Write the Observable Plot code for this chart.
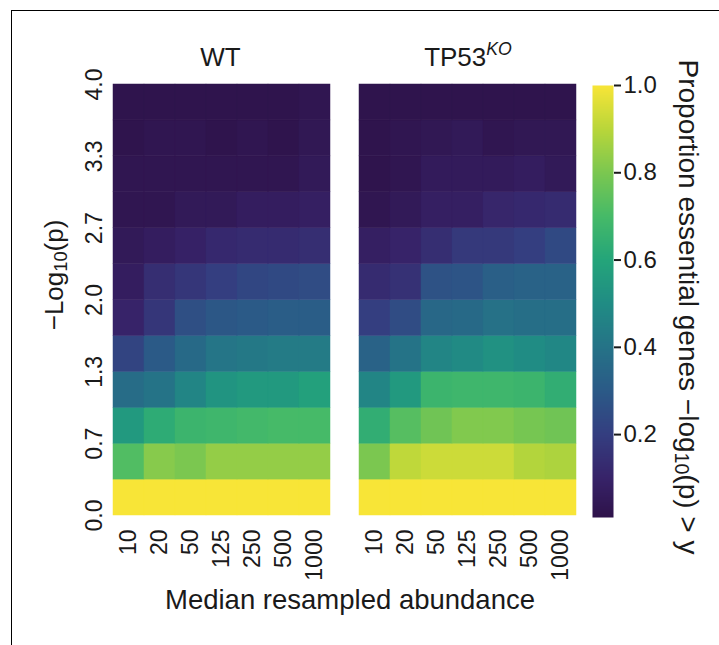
<!DOCTYPE html>
<html><head><meta charset="utf-8">
<script src="https://cdn.jsdelivr.net/npm/d3@7"></script>
<script src="https://cdn.jsdelivr.net/npm/@observablehq/plot@0.6"></script>
<style>
body{margin:0;background:#fff;}
#wrap{position:relative;width:719px;height:645px;overflow:hidden;font-family:"Liberation Sans",Arial,sans-serif;color:#1a1a1a;background:#fff;}
#wrap svg{position:absolute;top:0;}
.lbl{position:absolute;white-space:nowrap;transform:translate(-50%,-50%);line-height:1;}
.lbl sub{font-size:0.7em;vertical-align:baseline;position:relative;top:0.22em;}
.lbl sup{font-size:0.68em;vertical-align:baseline;position:relative;top:-0.6em;font-style:italic;}
.frame{position:absolute;left:11px;top:10px;width:720px;height:650px;border-top:1.5px solid #000;border-left:1.5px solid #000;}
svg [aria-label="y-axis tick"] path{stroke-width:2;}
</style></head><body><div id="wrap"></div>
<script>
// Columns: median resampled abundance
const abundance = ["10", "20", "50", "125", "250", "500", "1000"];
// Row lower bounds of -log10(p) thresholds (bottom to top)
const rowLower = [0, 1/3, 2/3, 1, 4/3, 5/3, 2, 7/3, 8/3, 3, 10/3, 11/3];
const rowStep = 1/3;
const panels = ["WT", "TP53KO"];
// Proportion of essential genes with -log10(p) > y; rows bottom (y=0) to top
const wt = [
  [1.00, 1.00, 1.00, 1.00, 1.00, 1.00, 1.00],
  [0.72, 0.82, 0.80, 0.84, 0.84, 0.84, 0.84],
  [0.55, 0.63, 0.67, 0.68, 0.69, 0.70, 0.70],
  [0.37, 0.40, 0.47, 0.53, 0.55, 0.55, 0.58],
  [0.22, 0.30, 0.36, 0.41, 0.42, 0.43, 0.43],
  [0.10, 0.17, 0.26, 0.29, 0.30, 0.31, 0.31],
  [0.07, 0.14, 0.17, 0.20, 0.23, 0.24, 0.25],
  [0.05, 0.07, 0.09, 0.12, 0.13, 0.13, 0.14],
  [0.03, 0.03, 0.05, 0.05, 0.07, 0.07, 0.08],
  [0.03, 0.03, 0.03, 0.03, 0.03, 0.03, 0.05],
  [0.02, 0.03, 0.03, 0.02, 0.03, 0.02, 0.04],
  [0.02, 0.02, 0.02, 0.02, 0.02, 0.02, 0.03]
];
const ko = [
  [1.00, 1.00, 1.00, 1.00, 1.00, 1.00, 1.00],
  [0.80, 0.91, 0.93, 0.93, 0.93, 0.89, 0.88],
  [0.64, 0.73, 0.78, 0.81, 0.81, 0.79, 0.78],
  [0.47, 0.55, 0.67, 0.68, 0.68, 0.67, 0.64],
  [0.33, 0.40, 0.47, 0.49, 0.52, 0.50, 0.48],
  [0.20, 0.25, 0.35, 0.36, 0.39, 0.38, 0.38],
  [0.13, 0.15, 0.27, 0.28, 0.32, 0.33, 0.33],
  [0.08, 0.10, 0.14, 0.18, 0.18, 0.20, 0.24],
  [0.03, 0.05, 0.08, 0.08, 0.11, 0.12, 0.13],
  [0.02, 0.03, 0.06, 0.06, 0.06, 0.07, 0.05],
  [0.02, 0.03, 0.04, 0.05, 0.03, 0.04, 0.04],
  [0.02, 0.02, 0.02, 0.02, 0.02, 0.02, 0.02]
];
const yTicks = [0, 2/3, 4/3, 2, 8/3, 10/3, 4];
const cbTicks = [0.2, 0.4, 0.6, 0.8, 1.0];
const cbMin = 0.01;
const colorDomain = [0, 0.1, 0.2, 0.3, 0.4, 0.5, 0.6, 0.7, 0.8, 0.9, 1.0];
const colorRange = ["#2d1046", "#372369", "#343e80", "#2b5a87", "#257387", "#208c84", "#24a57a", "#46ba68", "#7bc750", "#b9d63a", "#f8e537"];

const cells = [];
[["WT", wt], ["TP53KO", ko]].forEach(([panel, m]) =>
  m.forEach((row, i) => row.forEach((v, j) =>
    cells.push({panel, abundance: abundance[j], y1: rowLower[i], y2: rowLower[i] + rowStep, value: v}))));

const color = {type: "linear", domain: colorDomain, range: colorRange, interpolate: "rgb"};
const font = "Liberation Sans, Arial, sans-serif";

const main = Plot.plot({
  width: 600, height: 645,
  marginLeft: 112, marginRight: 24, marginTop: 84, marginBottom: 130,
  style: {fontFamily: font, fontSize: "23px", color: "#1a1a1a", background: "transparent"},
  fx: {domain: panels, paddingInner: 0.118, paddingOuter: 0, axis: null},
  x: {domain: abundance, padding: 0, tickRotate: -90, tickSize: 0, tickPadding: 14, label: null},
  y: {domain: [0, 4], ticks: yTicks, tickFormat: d3.format(".1f"), tickRotate: -90, tickSize: 0, tickPadding: 12, label: null},
  color,
  marks: [
    Plot.barY(cells, {fx: "panel", x: "abundance", y1: "y1", y2: "y2", fill: "value", stroke: "value", strokeWidth: 0.5})
  ]
});
main.style.left = "0px";

const cb = Plot.plot({
  width: 139, height: 645,
  marginLeft: 12, marginRight: 106, marginTop: 85, marginBottom: 128,
  style: {fontFamily: font, fontSize: "24px", color: "#1a1a1a", background: "transparent"},
  x: {axis: null, domain: [0, 1]},
  y: {domain: [cbMin, 1], axis: "right", ticks: cbTicks, tickFormat: d3.format(".1f"), tickSize: 7, tickPadding: 3, label: null},
  color,
  marks: [
    Plot.raster({x1: 0, x2: 1, y1: cbMin, y2: 1, fill: (x, y) => y, pixelSize: 1})
  ]
});
cb.style.left = "580px";

const wrap = document.getElementById("wrap");
wrap.appendChild(main);
wrap.appendChild(cb);

function label(html, x, y, size, rot) {
  const d = document.createElement("div");
  d.className = "lbl";
  d.innerHTML = html;
  d.style.left = x + "px";
  d.style.top = y + "px";
  d.style.fontSize = size + "px";
  d.style.transform = "translate(-50%,-50%)" + (rot ? ` rotate(${rot}deg)` : "");
  wrap.appendChild(d);
}
label("WT", 220.5, 57, 26, 0);
label("TP53<sup>KO</sup>", 468, 57, 26, 0);
label("\u2212Log<sub>10</sub>(p)", 54, 275, 26, -90);
label("Median resampled abundance", 350, 600, 27.5, 0);
label("Proportion essential genes \u2212log<sub>10</sub>(p) &gt; y", 688, 307, 28, 90);
const fr = document.createElement("div");
fr.className = "frame";
wrap.appendChild(fr);
</script></body></html>
